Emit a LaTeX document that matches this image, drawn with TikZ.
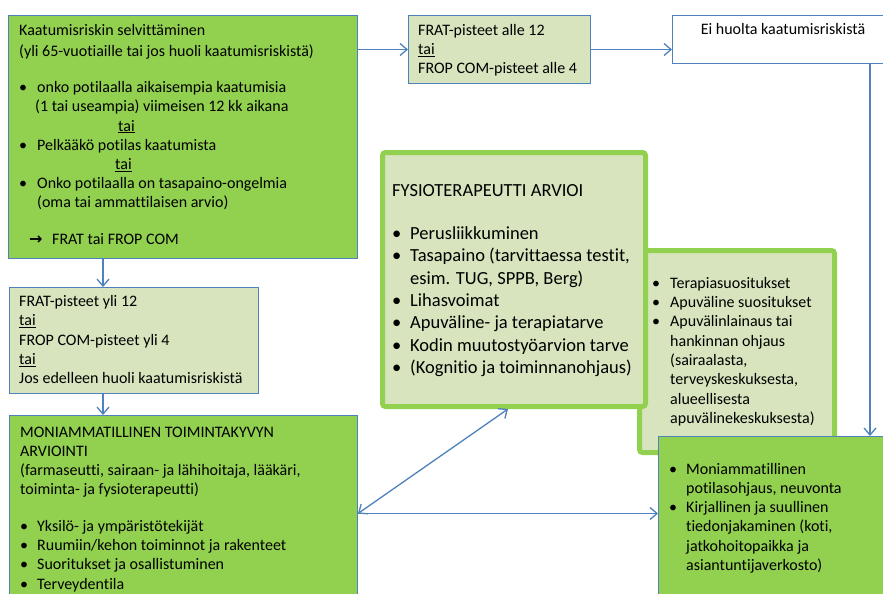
\documentclass[tikz,border=0pt]{standalone}
\usepackage{fontspec}
\setmainfont[Ligatures=NoCommon]{Carlito}
\newfontfamily\symfont{DejaVu Sans}
\usetikzlibrary{arrows.meta}
\definecolor{lineblue}{HTML}{4F81BD}
\definecolor{brightgreen}{HTML}{92D050}
\definecolor{palegreen}{HTML}{D7E4BD}
\newcommand\tstrut{\rule{0pt}{14pt}}
\newcommand\bigstrut{\rule{0pt}{17pt}}
\newcommand\bl[1][17pt]{\makebox[#1][l]{•}}
\begin{document}
\begin{tikzpicture}[x=1pt,y=-1pt,
  box/.style={draw=lineblue, line width=1pt, inner sep=0pt, anchor=north west},
  thickbox/.style={draw=brightgreen, line width=5pt, inner sep=0pt, anchor=north west, rounded corners=3pt, fill=palegreen},
  conn/.style={draw=lineblue, line width=1.3pt, -{Straight Barb[length=7pt,width=12pt]}},
  dconn/.style={draw=lineblue, line width=1.3pt, {Straight Barb[length=7pt,width=12pt]}-{Straight Barb[length=7pt,width=12pt]}},
  txt/.style={anchor=north west, inner sep=0pt, align=left, font=\fontsize{16}{19.2}\selectfont},
  bigtxt/.style={anchor=north west, inner sep=0pt, align=left, font=\fontsize{18.5}{22.4}\selectfont},
]
\useasboundingbox (0,0) rectangle (883,594);
\fill[white] (0,0) rectangle (883,594);

% boxes
\node[box, fill=brightgreen, minimum width=349pt, minimum height=243pt] (risk) at (8,15) {};
\node[box, fill=palegreen, minimum width=182pt, minimum height=68pt] (low) at (408,15) {};
\node[box, fill=white, minimum width=222pt, minimum height=48pt] (nohuoli) at (672,15) {};
\node[box, fill=palegreen, minimum width=249pt, minimum height=106pt] (high) at (9,287) {};
\node[box, fill=brightgreen, minimum width=348pt, minimum height=205pt] (multi) at (9,415) {};
\node[thickbox, minimum width=195pt, minimum height=202pt] (recs) at (637,248) {};
\node[thickbox, minimum width=263pt, minimum height=254pt] (fysio) at (380,150) {};
\node[box, fill=brightgreen, minimum width=250pt, minimum height=180pt] (ohjaus) at (658,436) {};

% texts
\node[txt] (t1) at (19,21) {\tstrut Kaatumisriskin selvittäminen\\[2pt]
(yli 65-vuotiaille tai jos huoli kaatumisriskistä)\\[17pt]
\bl[18pt]onko potilaalla aikaisempia kaatumisia\\
\hspace*{16pt}(1 tai useampia) viimeisen 12 kk aikana\\
\hspace*{99pt}\underline{tai}\\
\bl[18pt]Pelkääkö potilas kaatumista\\
\hspace*{96pt}\underline{tai}\\
\bl[18pt]Onko potilaalla on tasapaino-ongelmia\\
\hspace*{18pt}(oma tai ammattilaisen arvio)\\[17pt]
\hspace*{10pt}\makebox[23pt][l]{\symfont\bfseries\fontsize{16}{16}\selectfont →}FRAT tai FROP COM};

\node[txt] (t2) at (418,21) {\tstrut FRAT-pisteet alle 12\\ \underline{tai}\\ FROP COM-pisteet alle 4};

\node[anchor=base, inner sep=0pt, font=\fontsize{16}{19.2}\selectfont] (t3) at (783,35) {Ei huolta kaatumisriskistä};

\node[txt] (t4) at (19,292.5) {\tstrut FRAT-pisteet yli 12\\ \underline{tai}\\ FROP COM-pisteet yli 4\\ \underline{tai}\\ Jos edelleen huoli kaatumisriskistä};

\node[txt] (t5) at (20,423) {\tstrut MONIAMMATILLINEN TOIMINTAKYVYN\\
ARVIOINTI\\
(farmaseutti, sairaan- ja lähihoitaja, lääkäri,\\
toiminta- ja fysioterapeutti)\\[17.5pt]
\bl Yksilö- ja ympäristötekijät\\
\bl Ruumiin/kehon toiminnot ja rakenteet\\
\bl Suoritukset ja osallistuminen\\
\bl Terveydentila};

\node[bigtxt] (t6) at (392,179) {\bigstrut FYSIOTERAPEUTTI ARVIOI\\[20.6pt]
\bl[18pt]Perusliikkuminen\\
\bl[18pt]Tasapaino (tarvittaessa testit,\\
\hspace*{18pt}esim. TUG, SPPB, Berg)\\
\bl[18pt]Lihasvoimat\\
\bl[18pt]Apuväline- ja terapiatarve\\
\bl[18pt]Kodin muutostyöarvion tarve\\
\bl[18pt](Kognitio ja toiminnanohjaus)};

\node[txt, font=\fontsize{16}{19.3}\selectfont] (t7) at (652,274) {\tstrut\bl[18pt]Terapiasuositukset\\
\bl[18pt]Apuväline suositukset\\
\bl[18pt]Apuvälinlainaus tai\\
\hspace*{18pt}hankinnan ohjaus\\
\hspace*{18pt}(sairaalasta,\\
\hspace*{18pt}terveyskeskuksesta,\\
\hspace*{18pt}alueellisesta\\
\hspace*{18pt}apuvälinekeskuksesta)};

\node[txt] (t8) at (669,460) {\tstrut\bl Moniammatillinen\\
\hspace*{17pt}potilasohjaus, neuvonta\\
\bl Kirjallinen ja suullinen\\
\hspace*{17pt}tiedonjakaminen (koti,\\
\hspace*{17pt}jatkohoitopaikka ja\\
\hspace*{17pt}asiantuntijaverkosto)};

% connectors
\draw[conn] (risk.north east |- low.west) -- (low.west);
\draw[conn] (low.east) -- (low.east -| nohuoli.west);
\coordinate (down) at ([xshift=198pt]nohuoli.south west);
\draw[conn] (down) -- (down |- ohjaus.north);
\coordinate (rdown) at ([xshift=95pt]risk.south west);
\draw[conn] (rdown) -- (rdown |- high.north);
\draw[conn] (rdown |- high.south) -- (rdown |- multi.north);
\coordinate (hub) at ([yshift=4.5pt]multi.east);
\coordinate (fbot) at ([xshift=128pt]fysio.south west);
\draw[dconn] (hub) -- (fbot);
\draw[conn] (hub) -- (hub -| ohjaus.west);
\end{tikzpicture}
\end{document}
